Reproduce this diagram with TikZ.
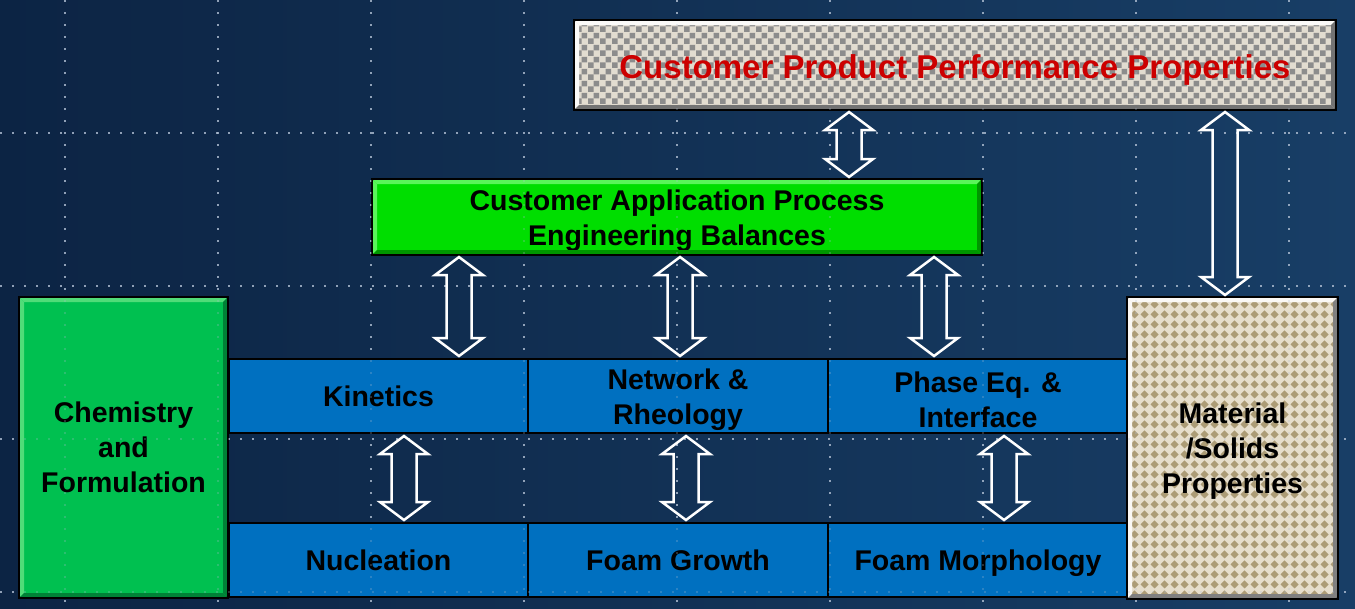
\documentclass[tikz,border=0pt]{standalone}
\usepackage{fontspec}
\setmainfont{Liberation Sans}
\usetikzlibrary{calc,patterns.meta}

\definecolor{bgL}{RGB}{12,36,68}
\definecolor{bgR}{RGB}{24,62,102}
\definecolor{appgreen}{RGB}{0,222,0}
\definecolor{appdark}{RGB}{0,150,0}
\definecolor{applight}{RGB}{90,245,90}
\definecolor{chemgreen}{RGB}{0,192,80}
\definecolor{chemdark}{RGB}{0,130,55}
\definecolor{chemlight}{RGB}{80,220,120}
\definecolor{boxblue}{RGB}{0,112,192}
\definecolor{chkL}{RGB}{226,220,208}
\definecolor{chkD}{RGB}{140,140,140}
\definecolor{cream}{RGB}{230,222,204}
\definecolor{tanc}{RGB}{172,156,118}
\definecolor{titlered}{RGB}{204,0,0}
\definecolor{griddot}{RGB}{175,190,210}

\tikzdeclarepattern{name=bigcheck, type=uncolored,
  bounding box={(0pt,0pt) and (12pt,12pt)}, tile size={(12pt,12pt)},
  code={\fill (0pt,0pt) rectangle (6pt,6pt); \fill (6pt,6pt) rectangle (12pt,12pt);}}
\tikzdeclarepattern{name=diamonds, type=uncolored,
  bounding box={(0pt,0pt) and (10pt,10pt)}, tile size={(10pt,10pt)},
  code={\fill (5pt,0.6pt) -- (9.4pt,5pt) -- (5pt,9.4pt) -- (0.6pt,5pt) -- cycle;}}

\tikzset{
  box/.style={draw=black, line width=2pt, inner sep=0pt, anchor=north west,
    align=center, text=black, font=\bfseries\fontsize{28.5}{35}\selectfont},
  bluebox/.style={box, fill=boxblue, minimum width=300pt, minimum height=74pt},
  gridline/.style={griddot, line width=1.6pt, dash pattern=on 1.6pt off 10.4pt},
  dblarr/.style={draw=white, line width=2.5pt, line join=miter,
    to path={($(\tikztostart)+(0,2)$) -- ($(\tikztostart)+(24,20)$)
      -- ($(\tikztostart)+(12.5,20)$) -- ($(\tikztotarget)+(12.5,-20)$)
      -- ($(\tikztotarget)+(24,-20)$) -- ($(\tikztotarget)+(0,-2)$)
      -- ($(\tikztotarget)+(-24,-20)$) -- ($(\tikztotarget)+(-12.5,-20)$)
      -- ($(\tikztostart)+(-12.5,20)$) -- ($(\tikztostart)+(-24,20)$) -- cycle}}
}

\newcommand\bevelbox[4]{% name, light, dark, width
  \fill[#2] (#1.north west) -- (#1.north east) -- ($(#1.north east)+(-#4,#4)$) -- ($(#1.north west)+(#4,#4)$) -- cycle;
  \fill[#2] (#1.north west) -- (#1.south west) -- ($(#1.south west)+(#4,-#4)$) -- ($(#1.north west)+(#4,#4)$) -- cycle;
  \fill[#3] (#1.south west) -- (#1.south east) -- ($(#1.south east)+(-#4,-#4)$) -- ($(#1.south west)+(#4,-#4)$) -- cycle;
  \fill[#3] (#1.north east) -- (#1.south east) -- ($(#1.south east)+(-#4,-#4)$) -- ($(#1.north east)+(-#4,#4)$) -- cycle;
  \draw[black, line width=2pt] (#1.north west) rectangle (#1.south east);
}
\newcommand\toppad[1]{\rule{0pt}{#1}}

\begin{document}
\begin{tikzpicture}[x=1pt,y=-1pt]
\useasboundingbox (0,0) rectangle (1355,608);
\shade[left color=bgL, right color=bgR] (0,0) rectangle (1355,608);

% dotted guide grid
\foreach \gx in {65,218,371,524,677,830,983,1136,1289}
  \draw[gridline, opacity=0.75] (\gx,0) -- (\gx,608);
\foreach \gy in {133,286,439,592}
  \draw[gridline, opacity=0.75] (0,\gy) -- (1355,\gy);

% blue boxes
\node[bluebox, minimum width=299pt] (kin) at (228,358) {Kinetics};
\node[bluebox] (net) at (527,358) {\toppad{29pt}Network \&\\Rheology};
\node[bluebox] (phase) at (827,358) {\toppad{29pt}Phase Eq. \&\\Interface};
\node[bluebox, minimum width=299pt] (nuc) at (228,522) {Nucleation};
\node[bluebox] (growth) at (527,522) {Foam Growth};
\node[bluebox, text depth=0pt] (morph) at (827,522) {Foam Morphology};

% side boxes
\node[box, fill=chemgreen, minimum width=207pt, minimum height=299pt] (chem) at (19,297) {Chemistry\\and\\Formulation};
\node[box, pattern=diamonds, pattern color=tanc, preaction={fill=cream},
      minimum width=209pt, minimum height=300pt] (mat) at (1127,297) {\toppad{27pt}Material\\/Solids\\Properties};

% top boxes
\node[box, fill=appgreen, minimum width=608pt, minimum height=74pt] (app) at (372,179) {\toppad{29pt}Customer Application Process\\Engineering Balances};
\node[box, pattern=bigcheck, pattern color=chkD, preaction={fill=chkL},
      minimum width=760pt, minimum height=88pt, text=titlered, text depth=0pt,
      font=\bfseries\fontsize{33}{40}\selectfont] (perf) at (574,20) {\toppad{27pt}Customer Product Performance Properties};

% bevels
\bevelbox{app}{applight}{appdark}{5}
\bevelbox{chem}{chemlight}{chemdark}{5}
\bevelbox{perf}{white!85!chkL}{black!55}{5}
\bevelbox{mat}{white!80!cream}{black!50}{5}

% faint grid over boxes
\foreach \gx in {65,218,371,524,677,830,983,1136,1289}
  \draw[gridline, opacity=0.25] (\gx,0) -- (\gx,608);
\foreach \gy in {133,286,439,592}
  \draw[gridline, opacity=0.25] (0,\gy) -- (1355,\gy);

% arrow x positions
\coordinate (c1) at (849,0);
\coordinate (c2) at (1225,0);
\coordinate (c3) at (459,0);
\coordinate (c4) at (680,0);
\coordinate (c5) at (934,0);
\coordinate (c6) at (404,0);
\coordinate (c7) at (686,0);
\coordinate (c8) at (1004,0);

\draw[dblarr] (perf.south -| c1) to (app.north -| c1);
\draw[dblarr] (perf.south -| c2) to (mat.north -| c2);
\draw[dblarr] (app.south -| c3) to (kin.north -| c3);
\draw[dblarr] (app.south -| c4) to (net.north -| c4);
\draw[dblarr] (app.south -| c5) to (phase.north -| c5);
\draw[dblarr] (kin.south -| c6) to (nuc.north -| c6);
\draw[dblarr] (net.south -| c7) to (growth.north -| c7);
\draw[dblarr] (phase.south -| c8) to (morph.north -| c8);
\end{tikzpicture}
\end{document}
